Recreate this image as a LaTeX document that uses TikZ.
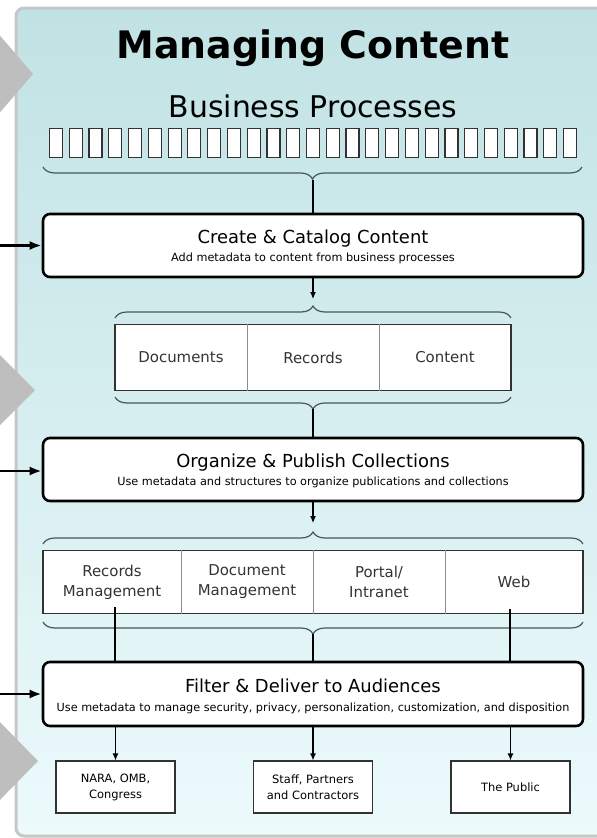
\documentclass[tikz,border=0pt]{standalone}
\usepackage{fontspec}
\setmainfont{DejaVu Sans}
\usetikzlibrary{arrows.meta,decorations.pathreplacing,positioning}
\tikzset{>={Latex[length=7bp,width=6bp]}}

\definecolor{panelTop}{RGB}{193,226,228}
\definecolor{panelBot}{RGB}{236,250,252}
\definecolor{chevron}{RGB}{190,190,190}
\definecolor{edge}{RGB}{50,50,50}
\definecolor{bracecol}{RGB}{72,86,88}

\tikzset{
  stage/.style={draw=black,line width=2.6bp,rounded corners=7bp,fill=white,
    minimum width=540bp,minimum height=63bp,inner sep=0pt},
  stagetitle/.style={anchor=base,inner sep=0pt,font=\fontsize{18}{22}\selectfont},
  stagesub/.style={anchor=base,inner sep=0pt,font=\fontsize{11.3}{14}\selectfont},
  proc/.style={draw=edge,fill=white,line width=1.2bp,minimum width=13bp,
    minimum height=29bp,inner sep=0pt},
  cell/.style={minimum height=66bp,inner sep=0pt,align=center,text=black!80,
    font=\fontsize{15}{20}\selectfont},
  outerbox/.style={draw=edge,fill=white,line width=1.3bp,inner sep=0pt},
  divider/.style={draw=black!45,line width=1bp},
  audience/.style={draw=edge,fill=white,line width=1.2bp,minimum width=119bp,
    minimum height=52bp,inner sep=0pt,align=center,
    font=\fontsize{11.5}{16}\selectfont},
  curly/.style={draw=bracecol,line width=1.2bp,decorate,
    decoration={brace,amplitude=12bp}},
  link/.style={draw=black,line width=1.1bp},
  inarrow/.style={draw=black,line width=2.6bp,-{Latex[length=12bp,width=9bp]}}
}

\begin{document}
\begin{tikzpicture}[x=1bp,y=-1bp]
\useasboundingbox (0,0) rectangle (597,838);

% panel
\shade[top color=panelTop,bottom color=panelBot,draw=black!22,line width=3bp,
  rounded corners=8bp] (16,8) rectangle (620,836);

% grey chevrons on the left edge
\fill[chevron] (-4,31) -- (33,74) -- (-4,117) -- cycle;
\fill[chevron] (-4,351) -- (35,390) -- (-4,429) -- cycle;
\fill[chevron] (-4,718) -- (38,761) -- (-4,804) -- cycle;

% heading
\node[anchor=base,inner sep=0pt,font=\fontsize{38}{44}\selectfont\bfseries]
  (heading) at (313,58) {Managing Content};
\node[anchor=base,inner sep=0pt,font=\fontsize{30}{36}\selectfont]
  (bizproc) at (313,117) {Business Processes};

% row of business processes
\foreach \i in {0,...,26}
  \node[proc] (bp\i) at ({56+19.77*\i},143) {};
\draw[curly] (582,167) -- (43,167);
\coordinate (tipA) at (313,180);

% stage 1
\node[stage] (create) at (313,245.5) {};
\node[stagetitle] (createT) at (313,243) {Create \& Catalog Content};
\node[stagesub] (createS) at (313,261) {Add metadata to content from business processes};

% documents / records / content
\node[outerbox,minimum width=396bp,minimum height=66bp] (store) at (313,357.5) {};
\node[cell,minimum width=132bp] (docs) at (181,357.5) {Documents};
\node[cell,minimum width=132bp] (recs) at (313,357.5) {Records};
\node[cell,minimum width=132bp] (cont) at (445,357.5) {Content};
\draw[divider] (docs.north east) -- (docs.south east);
\draw[divider] (recs.north east) -- (recs.south east);
\draw[curly] (115,318) -- (511,318);
\draw[curly] (511,397) -- (115,397);
\coordinate (tipB) at (313,299);
\coordinate (tipC) at (313,409);

% stage 2
\node[stage] (publish) at (313,469.5) {};
\node[stagetitle] (publishT) at (313,467) {Organize \& Publish Collections};
\node[stagesub] (publishS) at (313,485) {Use metadata and structures to organize publications and collections};

% channels
\node[outerbox,minimum width=540bp,minimum height=63bp] (chan) at (313,582) {};
\node[cell,minimum width=138bp,minimum height=63bp] (recmgmt) at (112,582) {Records\\Management};
\node[cell,minimum width=132bp,minimum height=63bp] (docmgmt) at (247,582) {Document\\Management};
\node[cell,minimum width=132bp,minimum height=63bp] (portal) at (379,582) {Portal/\\Intranet};
\node[cell,minimum width=138bp,minimum height=63bp] (web) at (514,582) {Web};
\draw[divider] (recmgmt.north east) -- (recmgmt.south east);
\draw[divider] (docmgmt.north east) -- (docmgmt.south east);
\draw[divider] (portal.north east) -- (portal.south east);
\draw[curly] (43,544) -- (583,544);
\draw[curly] (583,622) -- (43,622);
\coordinate (tipD) at (313,523);
\coordinate (tipE) at (313,634);
\coordinate (recLine) at (115,607);
\coordinate (webLine) at (510,609);

% stage 3
\node[stage,minimum height=64bp] (deliver) at (313,694) {};
\node[stagetitle] (deliverT) at (313,692) {Filter \& Deliver to Audiences};
\node[stagesub] (deliverS) at (313,711) {Use metadata to manage security, privacy, personalization, customization, and disposition};

% audiences
\node[audience] (nara) at (115.5,787) {NARA, OMB,\\Congress};
\node[audience] (staff) at (313,787) {Staff, Partners\\and Contractors};
\node[audience] (public) at (510.5,787) {The Public};

% connectors
\draw[link] (tipA) -- (create.north);
\draw[link,->] (create.south) -- (tipB);
\draw[link] (tipC) -- (publish.north);
\draw[link,->] (publish.south) -- (tipD);
\draw[link] (tipE) -- (deliver.north);
\draw[link] (recLine) -- (recLine |- deliver.north);
\draw[link] (webLine) -- (webLine |- deliver.north);
\draw[link,->] (nara |- deliver.south) -- (nara);
\draw[link,->] (staff |- deliver.south) -- (staff);
\draw[link,->] (public |- deliver.south) -- (public);

% inputs from the left
\coordinate (inA) at (0,245.5);
\coordinate (inB) at (0,471);
\coordinate (inC) at (0,694);
\draw[inarrow] (inA) -- (create.west);
\draw[inarrow] (inB) -- (inB -| publish.west);
\draw[inarrow] (inC) -- (deliver.west);
\end{tikzpicture}
\end{document}
